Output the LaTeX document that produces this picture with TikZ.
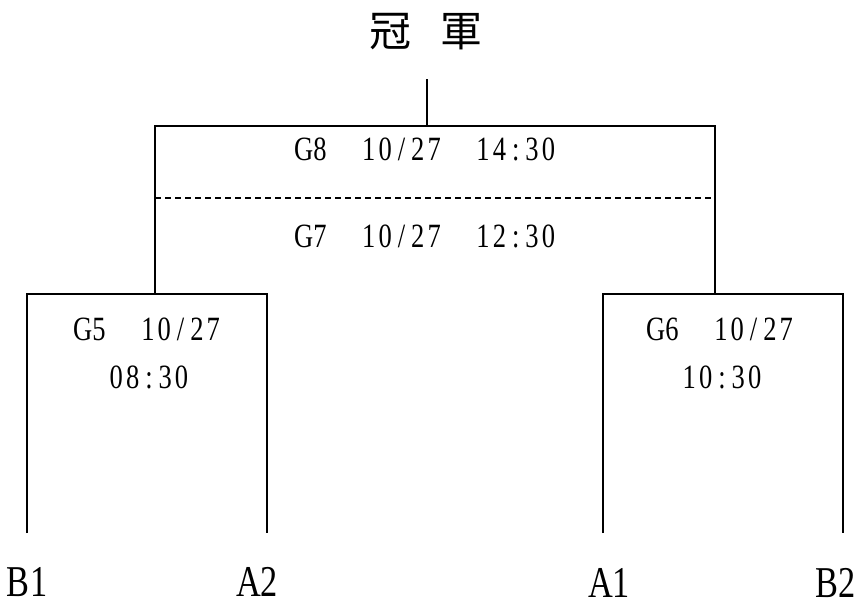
\documentclass[tikz,border=0pt]{standalone}
\usepackage{fontspec}
\setmainfont{Liberation Serif}
\newfontfamily\condfont[FakeStretch=0.78]{Liberation Serif}
\newfontfamily\cjk{Noto Sans CJK TC}
\makeatletter
\newcommand\monotext[1]{\@tfor\mc:=#1\do{\makebox[0.48em][c]{\mc}}}
\makeatother
\begin{document}
\begin{tikzpicture}[x=0.75pt,y=-0.75pt,
  bline/.style={line width=1.5pt, line join=miter},
  dline/.style={line width=1.1pt, dash pattern=on 4.5pt off 3pt},
  gamelbl/.style={inner sep=0pt, anchor=base, text depth=0pt, font=\condfont\fontsize{25.5pt}{30pt}\selectfont},
  teamlbl/.style={inner sep=0pt, anchor=base, text depth=0pt, font=\condfont\fontsize{33pt}{40pt}\selectfont},
  titlelbl/.style={inner sep=0pt, font=\cjk\fontsize{31.5pt}{36pt}\selectfont}]
\useasboundingbox (0,0) rectangle (861,603);
% coordinates
\coordinate (top) at (427,79);
\coordinate (g8m) at (427,126);
\coordinate (g8l) at (155,126);
\coordinate (g8r) at (715,126);
\coordinate (dl) at (155,198);
\coordinate (dr) at (715,198);
\coordinate (g5m) at (155,294);
\coordinate (g6m) at (715,294);
\coordinate (l1) at (27,294);
\coordinate (l2) at (267,294);
\coordinate (r1) at (603,294);
\coordinate (r2) at (843,294);
\coordinate (b1t) at (27,533);
\coordinate (a2t) at (267,533);
\coordinate (a1t) at (603,533);
\coordinate (b2t) at (843,533);
% lines
\draw[bline] (top) -- (g8m);
\draw[bline] (g5m) -- (g8l) -- (g8r) -- (g6m);
\draw[dline] (dl) -- (dr);
\draw[bline] (b1t) -- (l1) -- (l2) -- (a2t);
\draw[bline] (a1t) -- (r1) -- (r2) -- (b2t);
% title
\node[titlelbl] (title) at (426,32) {冠\hspace{22.5pt}軍};
% game labels
\node[gamelbl] (g8) at (426,160) {\monotext{G8~~10/27~~14:30}};
\node[gamelbl] (g7) at (426,247) {\monotext{G7~~10/27~~12:30}};
\node[gamelbl] (g5a) at (148,340) {\monotext{G5~~10/27}};
\node[gamelbl] (g5b) at (149,388) {\monotext{08:30}};
\node[gamelbl] (g6a) at (721,340) {\monotext{G6~~10/27}};
\node[gamelbl] (g6b) at (722,388) {\monotext{10:30}};
% teams
\node[teamlbl] (b1) at (29,596) {\monotext{B1}};
\node[teamlbl] (a2) at (259,596) {\monotext{A2}};
\node[teamlbl] (a1) at (611,597) {\monotext{A1}};
\node[teamlbl] (b2) at (837,597) {\monotext{B2}};
\end{tikzpicture}
\end{document}
